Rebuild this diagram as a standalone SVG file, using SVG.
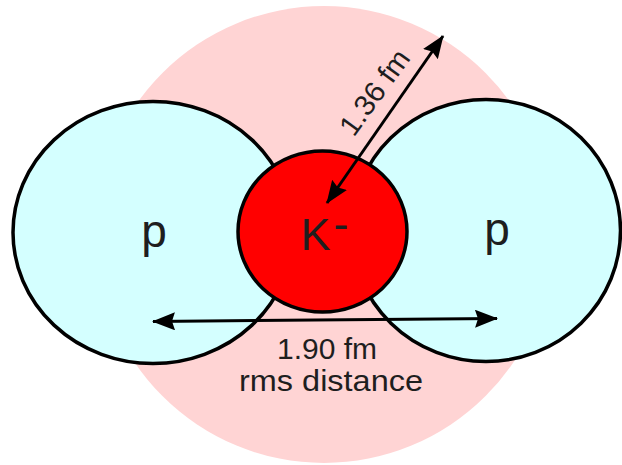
<svg xmlns="http://www.w3.org/2000/svg" width="622" height="465" viewBox="0 0 622 465">
  <style>
    .outline { stroke: #000; stroke-width: 3.5; }
    .proton { fill: #d4ffff; }
    .lbl { font-family: "Liberation Sans", Arial, sans-serif; fill: #1e1e1e; }
    .big { font-size: 46px; }
    .small { font-size: 29px; }
    .arrow { stroke: #000; stroke-width: 3; fill: none; }
  </style>
  <defs>
    <marker id="ah" viewBox="0 0 23 18" refX="22" refY="9" markerWidth="23" markerHeight="18" markerUnits="userSpaceOnUse" orient="auto-start-reverse">
      <path d="M0,0 L23,9 L0,18 L3,9 Z" fill="#000"/>
    </marker>
  </defs>
  <rect width="622" height="465" fill="#ffffff"/>

  <g id="kaon-cloud">
    <circle cx="324" cy="234.5" r="228.5" fill="#ffd4d4"/>
  </g>

  <g id="proton-left">
    <ellipse class="proton outline" cx="153" cy="232.5" rx="140" ry="131"/>
    <text class="lbl big" x="154" y="247" text-anchor="middle">p</text>
  </g>

  <g id="proton-right">
    <ellipse class="proton outline" cx="486" cy="230.5" rx="134.5" ry="131"/>
    <text class="lbl big" x="497" y="245" text-anchor="middle">p</text>
  </g>

  <g id="kaon">
    <ellipse cx="322.5" cy="231.5" rx="84.5" ry="80.5" fill="#ff0000" class="outline"/>
    <text class="lbl" font-size="45" x="300.5" y="250">K<tspan dx="3" dy="-11">-</tspan></text>
  </g>

  <g id="connectors">
    <line class="arrow" x1="327" y1="203" x2="443" y2="36" marker-start="url(#ah)" marker-end="url(#ah)"/>
    <line class="arrow" x1="153" y1="321.5" x2="497" y2="318.5" marker-start="url(#ah)" marker-end="url(#ah)"/>
  </g>

  <g id="labels">
    <text class="lbl small" transform="translate(382.5,98) rotate(-54)" text-anchor="middle" textLength="98" lengthAdjust="spacingAndGlyphs">1.36 fm</text>
    <text class="lbl small" x="327" y="359" text-anchor="middle" textLength="100" lengthAdjust="spacingAndGlyphs">1.90 fm</text>
    <text class="lbl small" x="331" y="390.5" text-anchor="middle" textLength="184" lengthAdjust="spacingAndGlyphs">rms distance</text>
  </g>
</svg>
